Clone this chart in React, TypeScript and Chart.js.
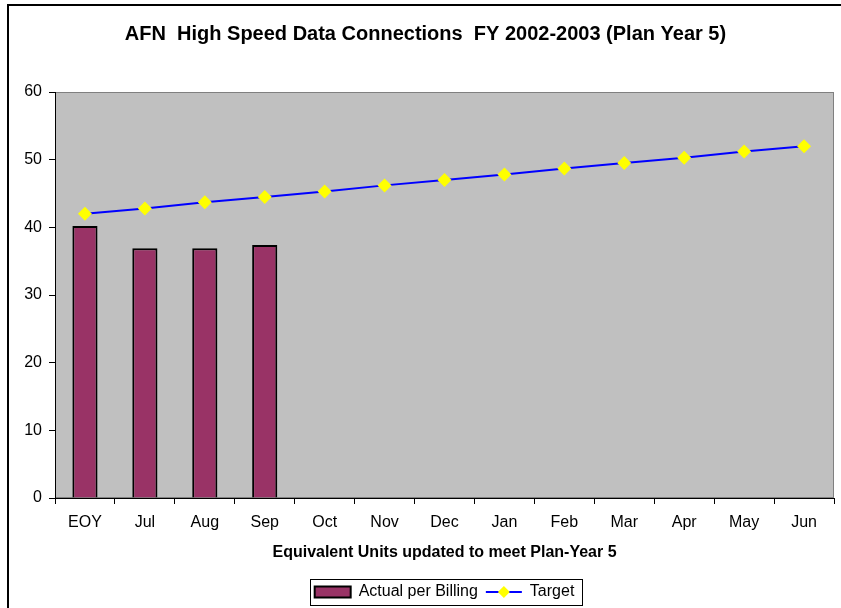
import React, { useEffect, useRef } from 'react';
import { Chart, registerables } from 'chart.js';

Chart.register(...registerables);

const categories = ['EOY', 'Jul', 'Aug', 'Sep', 'Oct', 'Nov', 'Dec', 'Jan', 'Feb', 'Mar', 'Apr', 'May', 'Jun'];
const actualPerBilling = [40.2, 36.9, 36.9, 37.4, null, null, null, null, null, null, null, null, null];
const target = [42.0, 42.8, 43.7, 44.5, 45.3, 46.2, 47.0, 47.8, 48.7, 49.5, 50.3, 51.2, 52.0];
const yMin = 0;
const yMax = 60;
const yStep = 10;

const chartTitle = 'AFN  High Speed Data Connections  FY 2002-2003 (Plan Year 5)';
const xTitle = 'Equivalent Units updated to meet Plan-Year 5';
const seriesNames = ['Actual per Billing', 'Target'];

const FONT = "'Liberation Sans', Arial, Helvetica, sans-serif";

const plotBg = {
  id: 'plotBg',
  beforeDraw(chart: any) {
    const { ctx, chartArea: a } = chart;
    ctx.save();
    ctx.fillStyle = '#C0C0C0';
    ctx.fillRect(a.left, a.top, a.right - a.left, a.bottom - a.top);
    ctx.strokeStyle = '#808080';
    ctx.lineWidth = 1;
    ctx.strokeRect(a.left + 0.5, a.top + 0.5, a.right - a.left - 1, a.bottom - a.top - 1);
    ctx.restore();
  },
};

const titleShift = {
  id: 'titleShift',
  afterLayout(chart: any) {
    const t = chart.titleBlock;
    if (t) {
      t.left += 17;
      t.width = t.right - t.left;
    }
  },
};

const legendDeco = {
  id: 'legendDeco',
  afterDraw(chart: any) {
    const lg = chart.legend;
    const boxes = lg && lg.legendHitBoxes;
    if (!boxes || boxes.length < 2) return;
    const ctx = chart.ctx;
    const first = boxes[0];
    const last = boxes[boxes.length - 1];
    const cy = first.top + first.height / 2;
    ctx.save();
    ctx.strokeStyle = '#000';
    ctx.lineWidth = 1;
    const l = Math.round(first.left - 5) + 0.5;
    const r = Math.round(last.left + last.width + 8) + 0.5;
    const t = Math.round(cy - 13) + 0.5;
    ctx.strokeRect(l, t, r - l, 26);
    const tb = boxes[1];
    ctx.strokeStyle = '#0000FF';
    ctx.lineWidth = 2;
    ctx.beginPath();
    ctx.moveTo(tb.left, cy);
    ctx.lineTo(tb.left + 36, cy);
    ctx.stroke();
    ctx.fillStyle = '#FFFF00';
    const dx = tb.left + 18;
    const s = 6;
    ctx.beginPath();
    ctx.moveTo(dx, cy - s);
    ctx.lineTo(dx + s, cy);
    ctx.lineTo(dx, cy + s);
    ctx.lineTo(dx - s, cy);
    ctx.closePath();
    ctx.fill();
    ctx.restore();
  },
};

export default function App() {
  const ref = useRef<HTMLCanvasElement | null>(null);

  useEffect(() => {
    if (!ref.current) return;
    const chart = new Chart(ref.current, {
      type: 'bar',
      data: {
        labels: categories,
        datasets: [
          {
            type: 'bar',
            label: seriesNames[0],
            data: actualPerBilling as any,
            backgroundColor: '#993366',
            borderColor: '#000000',
            borderWidth: 2,
            categoryPercentage: 1,
            barPercentage: 0.42,
          } as any,
          {
            type: 'line',
            label: seriesNames[1],
            data: target,
            borderColor: '#0000FF',
            borderWidth: 2,
            backgroundColor: '#FFFF00',
            pointStyle: 'rectRot',
            pointRadius: 7,
            pointBackgroundColor: '#FFFF00',
            pointBorderColor: '#FFFF00',
            pointBorderWidth: 0,
            tension: 0,
            fill: false,
          } as any,
        ],
      },
      options: {
        animation: false,
        responsive: false,
        devicePixelRatio: 1,
        layout: { padding: { left: 0, right: 7, top: 0, bottom: -2 } },
        plugins: {
          title: {
            display: true,
            text: chartTitle,
            color: '#000',
            font: { family: FONT, size: 20, weight: 'bold' },
            padding: { top: 22, bottom: 46 },
          },
          legend: {
            display: true,
            position: 'bottom',
            fullSize: false,
            labels: {
              color: '#000',
              font: { family: FONT, size: 16 },
              boxWidth: 36,
              boxHeight: 11,
              padding: 8,
              generateLabels: () => [
                {
                  text: seriesNames[0],
                  fillStyle: '#993366',
                  strokeStyle: '#000000',
                  lineWidth: 2,
                  datasetIndex: 0,
                  hidden: false,
                  fontColor: '#000',
                },
                {
                  text: seriesNames[1],
                  fillStyle: 'rgba(0,0,0,0)',
                  strokeStyle: 'rgba(0,0,0,0)',
                  lineWidth: 0,
                  datasetIndex: 1,
                  hidden: false,
                  fontColor: '#000',
                },
              ],
            },
          },
          tooltip: { enabled: false },
        },
        scales: {
          x: {
            type: 'category',
            offset: true,
            grid: {
              display: true,
              offset: true,
              drawOnChartArea: false,
              drawTicks: true,
              tickLength: 6,
              color: '#000',
            },
            border: { display: true, color: '#000', width: 1 },
            ticks: {
              color: '#000',
              font: { family: FONT, size: 16 },
              padding: 9,
              maxRotation: 0,
              autoSkip: false,
            },
            title: {
              display: true,
              text: xTitle,
              color: '#000',
              font: { family: FONT, size: 16, weight: 'bold' },
              padding: { top: 4, bottom: 14 },
            },
            afterFit: (scale: any) => {
              scale.height = 78;
            },
          } as any,
          y: {
            min: yMin,
            max: yMax,
            grid: {
              display: true,
              drawOnChartArea: false,
              drawTicks: true,
              tickLength: 6,
              color: '#000',
            },
            border: { display: true, color: '#000', width: 1 },
            ticks: {
              stepSize: yStep,
              color: '#000',
              font: { family: FONT, size: 16 },
              padding: 7,
            },
            afterFit: (scale: any) => {
              scale.width = 55;
            },
          } as any,
        },
      },
      plugins: [plotBg, titleShift, legendDeco],
    });
    return () => chart.destroy();
  }, []);

  return (
    <div style={{ position: 'fixed', left: 0, top: 0, width: 841, height: 608, background: '#fff', overflow: 'hidden' }}>
      <div
        style={{
          position: 'absolute',
          left: 7,
          top: 4,
          width: 900,
          height: 700,
          border: '2px solid #000',
          boxSizing: 'border-box',
        }}
      />
      <canvas ref={ref} width={841} height={608} style={{ position: 'absolute', left: 0, top: 0 }} />
    </div>
  );
}
